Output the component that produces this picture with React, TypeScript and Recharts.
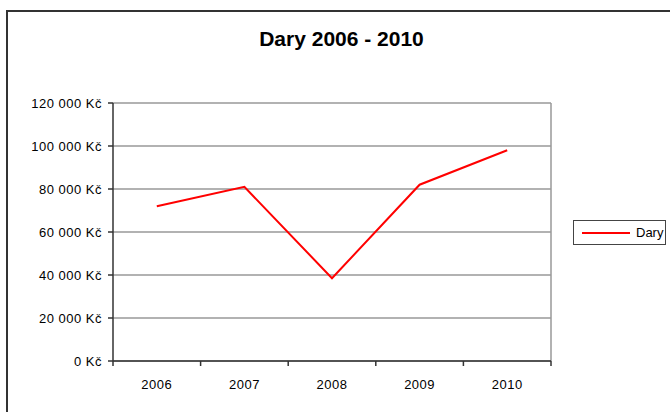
import React from "react";
import { LineChart, Line, XAxis, YAxis, CartesianGrid, Legend } from "recharts";

const years = ["2006", "2007", "2008", "2009", "2010"];
const dary = [72000, 81000, 38500, 82000, 98000];
const yTicks = [0, 20000, 40000, 60000, 80000, 100000, 120000];

const data = years.map((year, i) => ({ year, Dary: dary[i] }));

const W = 670;
const H = 412;
const plotLeft = 113;
const plotRight = 551;
const plotTop = 103;
const plotBottom = 361;
const halfBand = (plotRight - plotLeft) / years.length / 2;
const font = "'Liberation Sans', Arial, sans-serif";

const fmtKc = (v: number) => String(v).replace(/\B(?=(\d{3})+(?!\d))/g, " ") + " Kč";

function YearTick(props: any) {
  const { x, y, payload, index } = props;
  return (
    <g>
      {index === 0 && <line x1={x - halfBand} x2={x - halfBand} y1={y} y2={y + 5} stroke="#333" strokeWidth={1.5} />}
      <line x1={x + halfBand} x2={x + halfBand} y1={y} y2={y + 5} stroke="#333" strokeWidth={1.5} />
      <text x={x} y={y + 28} textAnchor="middle" fontSize={13} fill="#000" fontFamily={font} letterSpacing={0.5}>
        {payload.value}
      </text>
    </g>
  );
}

function LegendBox({ payload }: any) {
  return (
    <div
      style={{
        width: 91,
        height: 23,
        border: "1px solid #444",
        display: "flex",
        alignItems: "center",
        fontFamily: font,
        fontSize: 13,
        background: "#fff",
      }}
    >
      {(payload || []).map((p: any) => (
        <React.Fragment key={p.value}>
          <svg width={56} height={10} style={{ marginLeft: 6 }}>
            <line x1={2} x2={50} y1={5} y2={5} stroke={p.color} strokeWidth={2} />
          </svg>
          <span>{p.value}</span>
        </React.Fragment>
      ))}
    </div>
  );
}

export default function App() {
  return (
    <div style={{ position: "relative", width: W, height: H, overflow: "hidden", background: "#fff" }}>
      <style>{"body{margin:0;overflow:hidden}"}</style>
      <div
        style={{
          position: "absolute",
          left: 6,
          top: 10,
          width: 720,
          height: 440,
          borderLeft: "2px solid #333",
          borderTop: "2px solid #333",
        }}
      />
      <div
        style={{
          position: "absolute",
          left: 0,
          top: 29,
          width: 683,
          textAlign: "center",
          fontFamily: font,
          fontWeight: "bold",
          fontSize: 21,
          lineHeight: "20px",
        }}
      >
        Dary 2006 - 2010
      </div>
      <div style={{ position: "absolute", left: 0, top: 0 }}>
        <LineChart
          width={W}
          height={H}
          data={data}
          margin={{ top: plotTop, right: W - plotRight, bottom: H - plotBottom - 30, left: 0 }}
        >
          <CartesianGrid vertical={false} stroke="#666" strokeWidth={1.2} />
          <CartesianGrid
            horizontal={false}
            stroke="#999"
            strokeWidth={1.5}
            verticalCoordinatesGenerator={({ offset }: any) => [offset.left + offset.width]}
          />
          <XAxis
            dataKey="year"
            height={30}
            padding={{ left: halfBand, right: halfBand }}
            tickSize={0}
            tickMargin={0}
            tickLine={false}
            stroke="#333"
            strokeWidth={1.5}
            tick={<YearTick />}
            interval={0}
          />
          <YAxis
            width={plotLeft}
            domain={[0, 120000]}
            ticks={yTicks}
            tickFormatter={fmtKc}
            tickSize={5}
            tickMargin={6}
            stroke="#333"
            strokeWidth={1.5}
            tick={{ fontSize: 13, fill: "#000", fontFamily: font, letterSpacing: 0.5 }}
            interval={0}
          />
          <Legend
            layout="vertical"
            align="center"
            verticalAlign="middle"
            content={<LegendBox />}
            wrapperStyle={{ position: "absolute", left: 573, top: 220, width: 93 }}
          />
          <Line
            type="linear"
            dataKey="Dary"
            stroke="#ff0000"
            strokeWidth={2}
            dot={false}
            activeDot={false}
            isAnimationActive={false}
          />
        </LineChart>
      </div>
    </div>
  );
}
